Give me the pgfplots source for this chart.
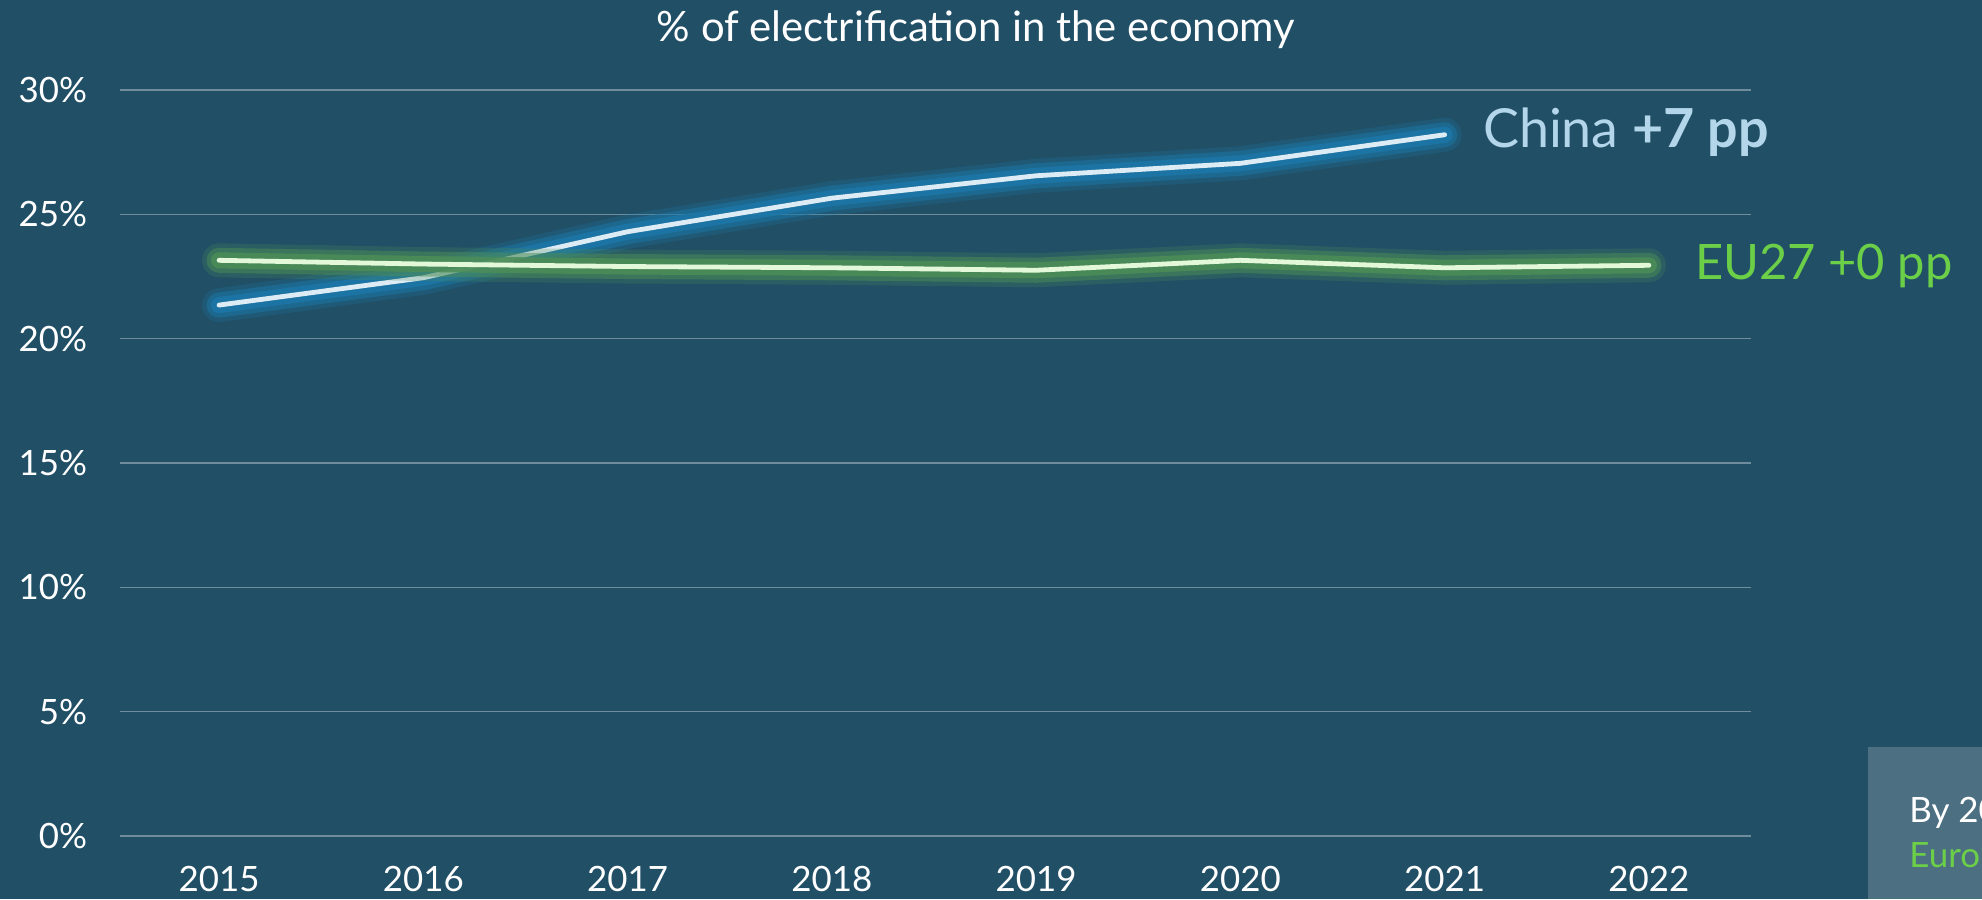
\documentclass[border=0pt]{standalone}
\usepackage{fontspec}
\setmainfont{Lato}
\usepackage{pgfplots}
\pgfplotsset{compat=1.18}

\definecolor{bg}{HTML}{214F66}
\definecolor{gridc}{HTML}{6F8D9C}
\definecolor{chinaline}{HTML}{DDEBF5}
\definecolor{chinaglow}{HTML}{1C77A8}
\definecolor{chinatxt}{HTML}{B3D6EA}
\definecolor{euline}{HTML}{E3F8D8}
\definecolor{euglow}{HTML}{4C8D58}
\definecolor{eutxt}{HTML}{6CCF48}
\definecolor{boxc}{HTML}{4C6F82}

\pgfplotstableread{
year val
2015 21.35
2016 22.45
2017 24.30
2018 25.65
2019 26.55
2020 27.05
2021 28.20
}\china

\pgfplotstableread{
year val
2015 23.15
2016 23.00
2017 22.90
2018 22.85
2019 22.75
2020 23.15
2021 22.85
2022 22.95
}\eu

\begin{document}
\begin{tikzpicture}[x=0.5bp,y=0.5bp]
\fill[bg] (0,0) rectangle (1982,899);
\useasboundingbox (0,0) rectangle (1982,899);

\node[anchor=base, text=white, font=\fontsize{21}{25}\selectfont, inner sep=0]
  at (976,857) {\% of electrification in the economy};

\begin{axis}[
    at={(60bp,31.5bp)}, anchor=south west,
    scale only axis,
    width=815.5bp, height=373bp,
    xmin=2014.515, xmax=2022.5,
    ymin=0, ymax=30,
    clip=false,
    axis line style={draw=none},
    major tick length=0pt,
    xtick={2015,...,2022},
    ytick={0,5,...,30},
    ymajorgrids,
    grid style={gridc, line width=0.8bp},
    /pgf/number format/assume math mode=true,
    /pgf/number format/1000 sep={},
    yticklabel={\pgfmathprintnumber{\tick}\%},
    tick label style={text=white, font=\fontsize{17.5}{21}\selectfont},
    yticklabel style={xshift=-13bp},
    xticklabel style={yshift=-11.5bp},
    glow/.style={no marks, line cap=round, line join=round},
]
\addplot[glow, chinaglow, opacity=0.25, line width=17bp] table[x=year,y=val] {\china};
\addplot[glow, chinaglow, opacity=0.5, line width=12.5bp] table[x=year,y=val] {\china};
\addplot[glow, chinaglow, opacity=0.85, line width=8bp] table[x=year,y=val] {\china};
\addplot[glow, chinaline, line width=2.4bp] table[x=year,y=val] {\china};

\addplot[glow, euglow, opacity=0.25, line width=17bp] table[x=year,y=val] {\eu};
\addplot[glow, euglow, opacity=0.5, line width=12.5bp] table[x=year,y=val] {\eu};
\addplot[glow, euglow, opacity=0.85, line width=8bp] table[x=year,y=val] {\eu};
\addplot[glow, euline, line width=2.4bp] table[x=year,y=val] {\eu};

\node[anchor=base west, inner sep=0, text=chinatxt, font=\fontsize{27}{32}\selectfont,
      xshift=19bp, yshift=-6.5bp]
  at (axis cs:2021,28.20) {China \textbf{+7 pp}};
\node[anchor=base west, inner sep=0, text=eutxt, font=\fontsize{24.5}{29}\selectfont,
      xshift=23bp, yshift=-7bp]
  at (axis cs:2022,22.95) {EU27 +0 pp};
\end{axis}

\begin{scope}
\clip (0,0) rectangle (1982,899);
\fill[boxc] (1868,0) rectangle (1982,152);
\node[anchor=base west, inner sep=0, text=white, font=\fontsize{17.5}{21}\selectfont]
  at (1909,77) {By 2030, the};
\node[anchor=base west, inner sep=0, text=eutxt, font=\fontsize{17.5}{21}\selectfont]
  at (1909,32) {Europe will};
\end{scope}
\end{tikzpicture}
\end{document}
